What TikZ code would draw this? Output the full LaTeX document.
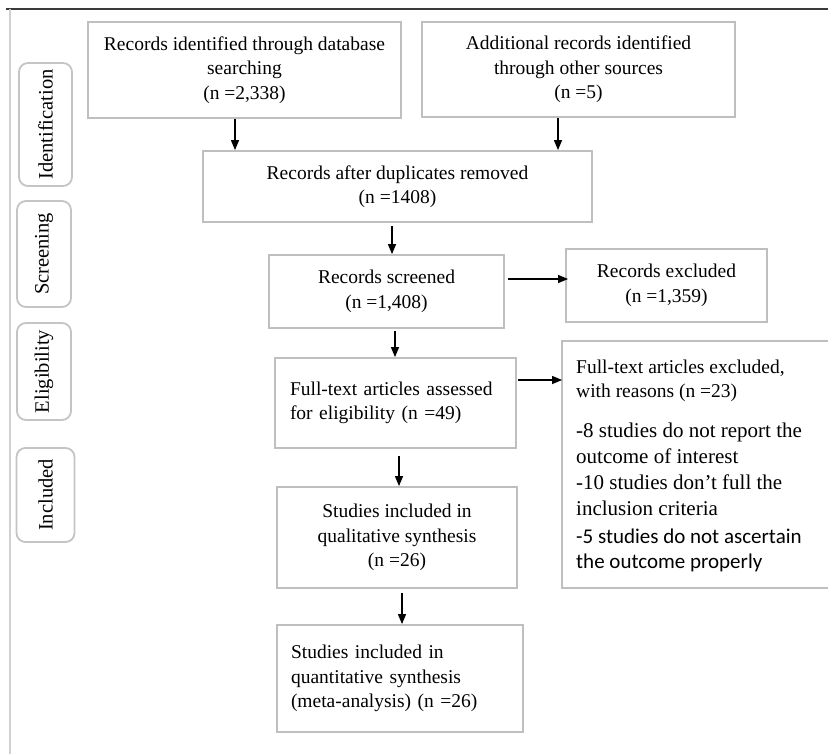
\documentclass[tikz,border=0pt]{standalone}
\usepackage{fontspec}
\setmainfont{Liberation Serif}
\newfontfamily\carl{Carlito}
\usetikzlibrary{arrows.meta}
\definecolor{boxgray}{HTML}{BFBFBF}
\definecolor{labgray}{HTML}{C4C4C4}
\definecolor{topline}{HTML}{3A3A3A}
\definecolor{sideline}{HTML}{D0D0D0}
\newcommand{\fsz}{\fontsize{19.5bp}{24.5bp}\selectfont}
\newcommand{\fbig}{\fontsize{21bp}{26bp}\selectfont}
\newcommand{\flab}{\fontsize{20.5bp}{24bp}\selectfont}
\tikzset{
  box/.style={draw=boxgray, line width=1.8bp, inner sep=0pt, font=\fsz, align=center},
  lbox/.style={box, align=left, inner xsep=15bp, inner ysep=0pt},
  lab/.style={draw=labgray, line width=1.8bp, rounded corners=9bp, rotate=90, font=\flab, inner sep=0pt},
  arr/.style={line width=1.2bp, -{Triangle[length=10bp,width=8bp]}},
  ln/.style={anchor=base west, inner sep=0pt},
}
\begin{document}
\begin{tikzpicture}[x=1bp,y=-1bp]
\useasboundingbox (0,0) rectangle (828,754);
\fill[white] (0,0) rectangle (828,754);
% frame lines
\coordinate (tl) at (6,9);
\coordinate (tr) at (828,9);
\coordinate (lt) at (10,9);
\coordinate (lb) at (10,754);
\draw[topline, line width=1.4bp] (tl) -- (tr);
\draw[sideline, line width=1.4bp] (lt) -- (lb);
% stage labels
\node[lab, minimum width=123bp, minimum height=53bp] (lid) at (45.5,124.5) {Identification};
\node[lab, minimum width=106bp, minimum height=54bp] (lsc) at (44,254) {Screening};
\node[lab, minimum width=97bp, minimum height=54bp] (lel) at (44,371.5) {Eligibility};
\node[lab, minimum width=94bp, minimum height=58bp] (lin) at (45.5,495) {Included};
% boxes
\node[box, minimum width=313bp, minimum height=96bp] (b1) at (244.5,70)
  {Records identified through database\\searching\\(n =2,338)};
\node[box, minimum width=313bp, minimum height=95bp] (b2) at (578.5,69.5)
  {Additional records identified\\through other sources\\(n =5)};
\node[box, minimum width=389bp, minimum height=71bp] (b3) at (397.5,186.5)
  {Records after duplicates removed\\(n =1408)};
\node[box, minimum width=235bp, minimum height=73bp] (b4) at (386.5,291.5)
  {Records screened\\(n =1,408)};
\node[box, minimum width=201bp, minimum height=73bp] (b5) at (666.5,285.5)
  {Records excluded\\(n =1,359)};
\node[lbox, text width=211bp, minimum height=90bp] (b6) at (395.5,403)
  {Full-text articles assessed\\for eligibility (n =49)};
\node[box, minimum width=280bp, minimum height=247bp] (b7) at (702,464.5) {};
\node[box, minimum width=240bp, minimum height=101bp] (b8) at (397,537.5)
  {Studies included in\\qualitative synthesis\\(n =26)};
\node[lbox, inner xsep=14bp, text width=218bp, minimum height=107bp] (b9) at (400,678.5)
  {Studies included in\\quantitative synthesis\\(meta-analysis) (n =26)};
% text of the exclusion box
\node[ln, font=\fsz] (t1) at (576,373) {Full-text articles excluded,};
\node[ln, font=\fsz] (t2) at (576,397) {with reasons (n =23)};
\node[ln, font=\fbig] (t3) at (576,437) {-8 studies do not report the};
\node[ln, font=\fbig] (t4) at (576,463) {outcome of interest};
\node[ln, font=\fbig] (t5) at (576,489) {-10 studies don’t full the};
\node[ln, font=\fbig] (t6) at (576,515) {inclusion criteria};
\node[ln, font=\fbig\carl] (t7) at (576,543) {-5 studies do not ascertain};
\node[ln, font=\fbig\carl] (t8) at (576,568) {the outcome properly};
% connectors
\draw[arr] ([xshift=-9.5bp]b1.south) -- ([xshift=-9.5bp]b1.south |- b3.north);
\draw[arr] ([xshift=-20.5bp]b2.south) -- ([xshift=-20.5bp]b2.south |- b3.north);
\draw[arr] ([xshift=-5.5bp,yshift=-3bp]b3.south) -- ([xshift=-5.5bp]b3.south |- b4.north);
\draw[arr] ([xshift=3bp,yshift=12.5bp]b4.east) -- ([xshift=3bp,yshift=12.5bp]b4.east -| b5.west);
\draw[arr] ([xshift=8.5bp,yshift=-2bp]b4.south) -- ([xshift=8.5bp]b4.south |- b6.north);
\draw[arr] ([xshift=1bp,yshift=23bp]b6.east) -- ([xshift=1bp,yshift=23bp]b6.east -| b7.west);
\draw[arr] ([xshift=3.5bp,yshift=-7bp]b6.south) -- ([xshift=3.5bp]b6.south |- b8.north);
\draw[arr] ([xshift=5bp,yshift=-4bp]b8.south) -- ([xshift=5bp]b8.south |- b9.north);
\end{tikzpicture}
\end{document}
